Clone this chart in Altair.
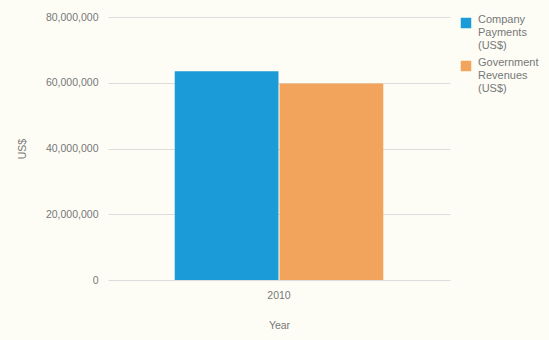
import altair as alt
import pandas as pd

years = ["2010", "2010"]
series = ["Company Payments (US$)", "Government Revenues (US$)"]
values = [63500000, 59800000]
colors = ["#1b9bd7", "#f2a35c"]

df = pd.DataFrame({"Year": years, "Series": series, "Value": values})

chart = alt.Chart(df).mark_bar().encode(
    x=alt.X("Year:N", title="Year",
            scale=alt.Scale(paddingInner=0, paddingOuter=0.32),
            axis=alt.Axis(labelAngle=0, ticks=False, domain=False, labelPadding=10,
                          titlePadding=20)),
    xOffset=alt.XOffset("Series:N", scale=alt.Scale(paddingInner=0.01)),
    y=alt.Y("Value:Q", title="US$",
            scale=alt.Scale(domain=[0, 80000000]),
            axis=alt.Axis(values=[0, 20000000, 40000000, 60000000, 80000000],
                          format=",d", domain=False, ticks=False,
                          labelPadding=10, titlePadding=18)),
    color=alt.Color("Series:N", scale=alt.Scale(domain=series, range=colors),
                    legend=alt.Legend(title=None, orient="none", legendX=352, legendY=0,
                                      symbolType="square", symbolSize=110,
                                      labelExpr="split(datum.label, ' ')",
                                      labelBaseline="alphabetic", labelOffset=6,
                                      rowPadding=6, labelLimit=120)),
).properties(
    width=342, height=263,
    background="#fdfdf6",
    padding={"left": 100, "top": 9, "right": 90, "bottom": 50},
    autosize=alt.AutoSizeParams(type="none"),
).configure_axis(
    labelFont="Liberation Sans", titleFont="Liberation Sans",
    labelFontSize=10.5, titleFontSize=10.5, labelColor="#777777", titleColor="#777777",
    titleFontWeight="normal", gridColor="#dddddd",
).configure_axisX(grid=False).configure_legend(
    labelFont="Liberation Sans", labelFontSize=11, labelColor="#777777",
).configure_view(stroke=None)

chart.save("out.html", embed_options={"renderer": "svg", "actions": False})

with open("out.html", encoding="utf-8") as f:
    html = f.read()
html = html.replace("<head>", "<head><style>html,body{background:#fdfdf6;}</style>", 1)
with open("out.html", "w", encoding="utf-8") as f:
    f.write(html)
